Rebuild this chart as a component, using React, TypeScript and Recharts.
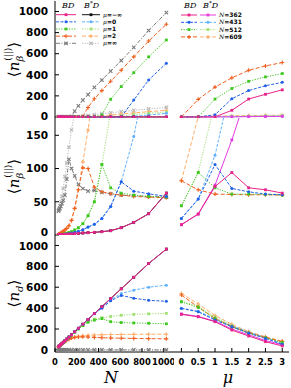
import React from 'react';
import { LineChart, Line, XAxis, YAxis, Legend } from 'recharts';

// ---------- x values / ticks ----------
const N_VALUES = [32, 38, 45, 54, 64, 76, 91, 108, 128, 152, 181, 215, 256, 304, 362, 431, 512, 609, 724, 861, 1024];
const MU_VALUES = [0, 0.5, 1, 1.5, 2, 2.5, 3];
const N_TICKS = [0, 200, 400, 600, 800, 1000];
const MU_TICKS = [0, 0.5, 1, 1.5, 2, 2.5, 3];
const BIG_Y_TICKS = [0, 200, 400, 600, 800, 1000];
const MID_Y_TICKS = [0, 50, 100, 150];
const MU_LEGEND = ['−∞', '0', '1', '2', '∞'];
const N_LEGEND = ['362', '431', '512', '609'];

// ---------- top-left: <n_beta par> vs N ----------
const PAR_BD_MNEG = [0,0,0,0,0,0,0,0,0,0,0,0,0,0,0,0,0,0,0,0,0];
const PAR_BSD_MNEG = [0,0,0,0,0,0,0,0,0,0,0,0,0,0,0,0,0,0,0,0,0];
const PAR_BD_M0 = [0,0,0,0,0,0,0,0,0,0,0,0,0,0,0,0,0,0,160,350,510];
const PAR_BSD_M0 = [0,0,0,0,0,0,0,0,0,0,0,0,0,0,0,0,0,0,6,18,34];
const PAR_BD_M1 = [0,0,0,0,0,0,0,0,0,0,0,0,0,0,0,20,168,288,420,570,730];
const PAR_BSD_M1 = [0,0,0,0,0,0,0,0,0,0,0,0,0,0,0,0,4,12,22,34,47];
const PAR_BD_M2 = [0,0,0,0,0,0,0,0,0,0,0,0,5,90,172,250,338,444,570,720,880];
const PAR_BSD_M2 = [0,0,0,0,0,0,0,0,0,0,0,0,0,0,3,10,18,28,38,50,63];
const PAR_BD_MINF = [0,0,0,0,0,0,0,0,0,5,55,105,160,212,280,350,435,535,660,820,990];
const PAR_BSD_MINF = [0,0,0,0,0,0,0,0,0,0,0,3,8,14,22,31,40,50,62,76,90];

// ---------- middle-left: <n_beta anti> vs N ----------
const ANTI_BD_MNEG = [0.5,0.5,0.6,0.7,0.8,0.9,1,1.1,1.3,1.5,2,2.5,3,3.5,4,5,6.5,11,19,32,63];
const ANTI_BSD_MNEG = [0.5,0.5,0.6,0.7,0.8,0.9,1,1.1,1.3,1.5,2,2.5,3,3.5,4,5,6.5,11,19,32,63];
const ANTI_BD_M0 = [0.2,0.3,0.4,0.5,0.7,0.9,1.2,1.6,2.2,3,4,5.5,8,12,16,25,43,80,66,62,58];
const ANTI_BSD_M0 = [0.2,0.3,0.4,0.5,0.7,0.9,1.2,1.6,2.2,3,4,5.5,8,12,16,25,43,80,148,260,400];
const ANTI_BD_M1 = [0.3,0.4,0.5,0.7,1,1.3,1.8,2.6,3.6,5,7.5,11,17,29,50,106,71,63,60,58,57];
const ANTI_BSD_M1 = [0.3,0.4,0.5,0.7,1,1.3,1.8,2.6,3.6,5,7.5,11,17,29,50,106,185,290,400,520,650];
const ANTI_BD_M2 = [1,1.5,2,3,4,5.5,7.5,10,14,22,40,68,101,100,72,65,62,60,58,57,56];
const ANTI_BSD_M2 = [1,1.5,2,3,4,5.5,7.5,10,14,22,40,68,110,158,230,320,420,530,650,780,900];
const ANTI_BD_MINF = [36,38,40,43,47,52,60,84,114,100,89,76,70,66,67,64,62,60,59,58,57];
const ANTI_BSD_MINF = [37,40,44,50,58,70,88,108,132,158,185,220,270,330,400,480,560,650,750,860,980];

// ---------- bottom-left: <n_d> vs N ----------
const ND_BD_MNEG = [31,37,43,52,62,73,87,104,123,146,174,207,246,292,348,414,492,585,695,827,965];
const ND_BSD_MNEG = [31,37,43,52,62,73,87,104,123,146,174,207,246,292,348,414,492,585,695,827,965];
const ND_BD_M0 = [31,37,43,52,62,73,87,104,123,146,174,207,246,292,346,400,470,522,495,475,465];
const ND_BSD_M0 = [31,37,43,52,62,73,87,104,123,146,174,207,246,292,348,408,482,540,572,600,620];
const ND_BD_M1 = [31,37,43,52,61,72,86,102,121,143,170,200,232,265,285,300,270,262,258,255,250];
const ND_BSD_M1 = [31,37,43,52,61,72,86,102,121,143,170,202,236,272,295,308,320,332,340,345,350];
const ND_BD_M2 = [30,36,42,50,58,68,80,92,103,113,120,124,125,124,120,117,114,112,110,108,106];
const ND_BSD_M2 = [30,36,42,50,58,68,80,92,104,115,124,130,135,140,143,145,147,148,149,150,150];
const ND_BD_MINF = [0,0,0,0,0,0,0,0,0,0,0,0,0,0,0,0,0,0,0,0,0];
const ND_BSD_MINF = [0,0,0,0,0,0,0,0,0,0,0,0,0,0,0,0,0,0,0,0,0];

// ---------- right column: vs mu ----------
const R_PAR_362_BD = [0,0,0,63,170,215,257];
const R_PAR_362_BSD = [0,0,0,1,3,4,5];
const R_PAR_431_BD = [0,0,21,173,250,296,328];
const R_PAR_431_BSD = [0,0,1,3,5,7,8];
const R_PAR_512_BD = [0,0,170,270,338,380,412];
const R_PAR_512_BSD = [0,1,4,7,9,11,12];
const R_PAR_609_BD = [0,167,283,371,442,484,516];
const R_PAR_609_BSD = [0,3,7,10,13,15,17];

const R_ANTI_362_BD = [15.5,31.5,73,94,71,68,63];
const R_ANTI_362_BSD = [15.5,31.5,75,143,220,300,380];
const R_ANTI_431_BD = [25,54,106,70,65,61.5,60.5];
const R_ANTI_431_BSD = [25,54,120,230,330,420,500];
const R_ANTI_512_BD = [44,94,71,61.5,61.5,61,60];
const R_ANTI_512_BSD = [44,94,200,320,420,500,560];
const R_ANTI_609_BD = [81.5,68,61.5,61,60.5,60.5,60];
const R_ANTI_609_BSD = [81.5,178,300,420,520,600,680];

const R_ND_362_BD = [340,317,270,190,133,79,38];
const R_ND_362_BSD = [345,320,275,200,145,90,50];
const R_ND_431_BD = [397,365,286,222,160,110,54];
const R_ND_431_BSD = [400,370,295,230,170,120,60];
const R_ND_512_BD = [460,407,300,220,160,115,70];
const R_ND_512_BSD = [465,420,315,235,170,120,75];
const R_ND_609_BD = [525,410,300,225,165,120,80];
const R_ND_609_BSD = [540,440,330,245,175,125,85];

// ---------- styles ----------
const SANS = "'DejaVu Sans', 'Liberation Sans', sans-serif";
const SERIF = "'DejaVu Serif', 'Liberation Serif', serif";
const PINK = '#e8228a', MAGENTA = '#e23ce2', BLACK = '#111111';
const BLUE = '#2060e8', LBLUE = '#62b2ff';
const GREEN = '#3cc81e', LGREEN = '#a0e070';
const ORANGE = '#f0601e', LORANGE = '#ffae6a';
const GRAY = '#7c7c7c', LGRAY = '#b8b8b8';

type Sty = { color: string; dash?: string; marker: string };
const S: Record<string, Sty> = {
  mnegBD: { color: PINK, marker: 'sq' },
  mnegBSD: { color: BLACK, marker: 'sq' },
  m0BD: { color: BLUE, dash: '3 1.5', marker: 'circ' },
  m0BSD: { color: LBLUE, dash: '3 1.5', marker: 'circ' },
  m1BD: { color: GREEN, dash: '1.2 1.4', marker: 'sq' },
  m1BSD: { color: LGREEN, dash: '1.2 1.4', marker: 'sq' },
  m2BD: { color: ORANGE, dash: '4 2', marker: 'plus' },
  m2BSD: { color: LORANGE, dash: '4 2', marker: 'plus' },
  minfBD: { color: GRAY, dash: '4 1.5 1 1.5', marker: 'x' },
  minfBSD: { color: LGRAY, dash: '1.2 1.4', marker: 'x' },
  n362BD: { color: PINK, marker: 'sq' },
  n362BSD: { color: MAGENTA, marker: 'sq' },
};
const LEFT_ROWS = [
  [S.mnegBD, S.mnegBSD], [S.m0BD, S.m0BSD], [S.m1BD, S.m1BSD], [S.m2BD, S.m2BSD], [S.minfBD, S.minfBSD],
];
const RIGHT_ROWS = [
  [S.n362BD, S.n362BSD], [S.m0BD, S.m0BSD], [S.m1BD, S.m1BSD], [S.m2BD, S.m2BSD],
];

function markerShape(marker: string, color: string, cx: number, cy: number, key?: any) {
  const s = 1.4;
  if (marker === 'sq') return <rect key={key} x={cx - s} y={cy - s} width={2 * s} height={2 * s} fill={color} />;
  if (marker === 'circ') return <circle key={key} cx={cx} cy={cy} r={1.5} fill={color} />;
  if (marker === 'plus') return <path key={key} d={`M${cx - 2},${cy}H${cx + 2}M${cx},${cy - 2}V${cy + 2}`} stroke={color} strokeWidth={1.1} fill="none" />;
  return <path key={key} d={`M${cx - 1.7},${cy - 1.7}L${cx + 1.7},${cy + 1.7}M${cx - 1.7},${cy + 1.7}L${cx + 1.7},${cy - 1.7}`} stroke={color} strokeWidth={1.1} fill="none" />;
}
function makeDot(st: Sty) {
  return (p: any) => {
    const { cx, cy, index } = p;
    if (cx == null || cy == null || isNaN(cx) || isNaN(cy)) return <g key={index} />;
    return markerShape(st.marker, st.color, cx, cy, index);
  };
}

type Ser = { key: string; values: number[]; st: Sty };
const AX = { stroke: '#000', strokeWidth: 1 };

function makeYTick(nudge: Record<string, number>) {
  return (p: any) => (
    <text x={p.x} y={p.y + (nudge[String(p.payload.value)] || 0)} dy="0.36em" textAnchor="end" fontFamily={SANS}
      fontWeight="bold" fontSize={10.5} fill="#000">
      {p.payload.value}
    </text>
  );
}
const XTick = (p: any) => (
  <text x={p.x} y={p.y} dy="0.71em" textAnchor="middle" fontFamily={SANS} fontWeight="bold" fontSize={8.4} fill="#000">
    {p.payload.value}
  </text>
);

function betaTitle(sup: string) {
  return (lp: any) => {
    const vb = lp.viewBox || { x: 0, y: 0, width: 0, height: 0 };
    const cx = vb.x + 19;
    const cy = vb.y + vb.height / 2;
    return (
      <text transform={`rotate(-90 ${cx} ${cy})`} x={cx} y={cy} textAnchor="middle" fontFamily={SERIF} fontSize={15} fill="#000">
        ⟨<tspan fontStyle="italic">n</tspan>
        <tspan fontStyle="italic" fontSize={10} dy={4}>β</tspan>
        <tspan fontSize={9} dx={-5} dy={-12}>{sup}</tspan>
        <tspan dy={8}>⟩</tspan>
      </text>
    );
  };
}
function ndTitle(lp: any) {
  const vb = lp.viewBox || { x: 0, y: 0, width: 0, height: 0 };
  const cx = vb.x + 19;
  const cy = vb.y + vb.height / 2;
  return (
    <text transform={`rotate(-90 ${cx} ${cy})`} x={cx} y={cy} textAnchor="middle" fontFamily={SERIF} fontSize={15} fill="#000">
      ⟨<tspan fontStyle="italic">n</tspan>
      <tspan fontStyle="italic" fontSize={10} dy={4}>d</tspan>
      <tspan dy={-4}>⟩</tspan>
    </text>
  );
}
function xTitle(txt: string) {
  return (lp: any) => {
    const vb = lp.viewBox || { x: 0, y: 0, width: 0, height: 0 };
    return (
      <text x={vb.x + vb.width / 2 - 3} y={vb.y + 31} textAnchor="middle" fontFamily={SERIF} fontStyle="italic" fontSize={16} fill="#000">
        {txt}
      </text>
    );
  };
}

const LEG_FS = 6;

function LeftLegend() {
  return (
    <svg width={130} height={50} style={{ display: 'block', overflow: 'visible' }}>
      <text x={12} y={7.5} fontFamily={SERIF} fontStyle="italic" fontSize={8}>BD</text>
      <text x={34} y={7.5} fontFamily={SERIF} fontStyle="italic" fontSize={8}>B<tspan fontSize={5.5} dy={-3}>*</tspan><tspan dy={3}>D</tspan></text>
      {LEFT_ROWS.map((r, i) => {
        const y = 14.7 + i * 7.15;
        return (
          <g key={i}>
            <line x1={6} x2={26} y1={y} y2={y} stroke={r[0].color} strokeDasharray={r[0].dash} strokeWidth={1} />
            {markerShape(r[0].marker, r[0].color, 16, y)}
            <line x1={32} x2={50} y1={y} y2={y} stroke={r[1].color} strokeDasharray={r[1].dash} strokeWidth={1} />
            {markerShape(r[1].marker, r[1].color, 41, y)}
            <text x={53} y={y} dy="0.36em" fontFamily={SANS} fontWeight="bold" fontSize={LEG_FS}>
              <tspan fontFamily={SERIF} fontStyle="italic" fontWeight="normal">μ</tspan>={MU_LEGEND[i]}
            </text>
          </g>
        );
      })}
    </svg>
  );
}
function RightLegend() {
  return (
    <svg width={90} height={45} style={{ display: 'block', overflow: 'visible' }}>
      <text x={6} y={7.5} fontFamily={SERIF} fontStyle="italic" fontSize={8}>BD</text>
      <text x={25} y={7.5} fontFamily={SERIF} fontStyle="italic" fontSize={8}>B<tspan fontSize={5.5} dy={-3}>*</tspan><tspan dy={3}>D</tspan></text>
      {RIGHT_ROWS.map((r, i) => {
        const y = 15 + i * 7.3;
        return (
          <g key={i}>
            <line x1={3} x2={19} y1={y} y2={y} stroke={r[0].color} strokeDasharray={r[0].dash} strokeWidth={1} />
            {markerShape(r[0].marker, r[0].color, 11, y)}
            <line x1={22} x2={38} y1={y} y2={y} stroke={r[1].color} strokeDasharray={r[1].dash} strokeWidth={1} />
            {markerShape(r[1].marker, r[1].color, 30, y)}
            <text x={41} y={y} dy="0.36em" fontFamily={SANS} fontWeight="bold" fontSize={LEG_FS}>
              <tspan fontFamily={SERIF} fontStyle="italic" fontWeight="normal">N</tspan>={N_LEGEND[i]}
            </text>
          </g>
        );
      })}
    </svg>
  );
}

type PanelProps = {
  left: number; top: number; width: number; height: number; margin: any;
  xs: number[]; series: Ser[]; xDomain: [number, number]; xTicks: number[];
  yDomain: [number, number]; yTicks: number[]; yLabels: boolean; xLabels: boolean;
  yNudge?: Record<string, number>;
  yTitle?: any; xTitleText?: string; legend?: any; legendPos?: { left: number; top: number };
};

function Panel(p: PanelProps) {
  const data = p.xs.map((xv, i) => {
    const row: any = { x: xv };
    p.series.forEach((s) => { row[s.key] = s.values[i]; });
    return row;
  });
  const yTick = makeYTick(p.yNudge || {});
  return (
    <div style={{ position: 'absolute', left: p.left, top: p.top }}>
      <LineChart width={p.width} height={p.height} data={data} margin={p.margin}>
        <XAxis xAxisId="b" dataKey="x" type="number" domain={p.xDomain} ticks={p.xTicks} interval={0} allowDataOverflow
          height={p.xLabels ? 36 : 0} tick={p.xLabels ? XTick : false} tickSize={-4} tickMargin={11}
          axisLine={AX} tickLine={AX} label={p.xTitleText ? xTitle(p.xTitleText) : undefined} />
        <XAxis xAxisId="t" orientation="top" dataKey="x" type="number" domain={p.xDomain} ticks={p.xTicks} interval={0} allowDataOverflow
          height={0} tick={false} tickSize={-4} axisLine={AX} tickLine={AX} />
        <YAxis yAxisId="l" type="number" domain={p.yDomain} ticks={p.yTicks} interval={0} allowDataOverflow
          width={p.yLabels ? 55 : 0} tick={p.yLabels ? yTick : false} tickSize={-4} tickMargin={11}
          axisLine={AX} tickLine={AX} label={p.yTitle} />
        <YAxis yAxisId="r" orientation="right" type="number" domain={p.yDomain} ticks={p.yTicks} interval={0} allowDataOverflow
          width={0} tick={false} tickSize={-4} axisLine={AX} tickLine={AX} />
        {p.series.map((s) => (
          <Line key={s.key} xAxisId="b" yAxisId="l" type="linear" dataKey={s.key} stroke={s.st.color}
            strokeWidth={1} strokeDasharray={s.st.dash} dot={makeDot(s.st)} activeDot={false}
            isAnimationActive={false} />
        ))}
        {p.legend ? (
          <Legend layout="vertical" align="center" verticalAlign="middle" content={p.legend}
            wrapperStyle={{ left: p.legendPos!.left, top: p.legendPos!.top, width: 130, height: 50 }} />
        ) : null}
      </LineChart>
    </div>
  );
}

function leftSeries(a: number[][]): Ser[] {
  return [
    { key: 'minfBSD', values: a[9], st: S.minfBSD },
    { key: 'm2BSD', values: a[7], st: S.m2BSD },
    { key: 'm1BSD', values: a[5], st: S.m1BSD },
    { key: 'm0BSD', values: a[3], st: S.m0BSD },
    { key: 'mnegBSD', values: a[1], st: S.mnegBSD },
    { key: 'minfBD', values: a[8], st: S.minfBD },
    { key: 'm2BD', values: a[6], st: S.m2BD },
    { key: 'm1BD', values: a[4], st: S.m1BD },
    { key: 'm0BD', values: a[2], st: S.m0BD },
    { key: 'mnegBD', values: a[0], st: S.mnegBD },
  ];
}
function rightSeries(a: number[][]): Ser[] {
  return [
    { key: 'n609BSD', values: a[7], st: S.m2BSD },
    { key: 'n512BSD', values: a[5], st: S.m1BSD },
    { key: 'n431BSD', values: a[3], st: S.m0BSD },
    { key: 'n362BSD', values: a[1], st: S.n362BSD },
    { key: 'n609BD', values: a[6], st: S.m2BD },
    { key: 'n512BD', values: a[4], st: S.m1BD },
    { key: 'n431BD', values: a[2], st: S.m0BD },
    { key: 'n362BD', values: a[0], st: S.n362BD },
  ];
}

export default function App() {
  const LX: [number, number] = [0, 1085];
  const RX: [number, number] = [-0.25, 3.2];
  const TOPY: [number, number] = [-10, 1100];
  const MIDY: [number, number] = [0, 176];
  const BOTY: [number, number] = [-20, 1100];
  return (
    <div style={{ position: 'absolute', left: 0, top: 0, width: 291, height: 388, background: '#fff', overflow: 'hidden' }}>
      <Panel left={0} top={0} width={174} height={128} margin={{ top: 1, right: 1, bottom: 10, left: 0 }}
        xs={N_VALUES} xDomain={LX} xTicks={N_TICKS} yDomain={TOPY} yTicks={BIG_Y_TICKS} yLabels xLabels={false}
        yNudge={{ '0': -1 }}
        yTitle={betaTitle('(||)')} legend={LeftLegend} legendPos={{ left: 50, top: 0 }}
        series={leftSeries([PAR_BD_MNEG, PAR_BSD_MNEG, PAR_BD_M0, PAR_BSD_M0, PAR_BD_M1, PAR_BSD_M1, PAR_BD_M2, PAR_BSD_M2, PAR_BD_MINF, PAR_BSD_MINF])} />
      <Panel left={172} top={0} width={119} height={128} margin={{ top: 1, right: 2, bottom: 10, left: 1 }}
        xs={MU_VALUES} xDomain={RX} xTicks={MU_TICKS} yDomain={TOPY} yTicks={BIG_Y_TICKS} yLabels={false} xLabels={false}
        legend={RightLegend} legendPos={{ left: 6, top: 0 }}
        series={rightSeries([R_PAR_362_BD, R_PAR_362_BSD, R_PAR_431_BD, R_PAR_431_BSD, R_PAR_512_BD, R_PAR_512_BSD, R_PAR_609_BD, R_PAR_609_BSD])} />

      <Panel left={0} top={108} width={174} height={137} margin={{ top: 10, right: 1, bottom: 10, left: 0 }}
        xs={N_VALUES} xDomain={LX} xTicks={N_TICKS} yDomain={MIDY} yTicks={MID_Y_TICKS} yLabels xLabels={false}
        yNudge={{ '0': -2.5 }}
        yTitle={betaTitle('(||)')}
        series={leftSeries([ANTI_BD_MNEG, ANTI_BSD_MNEG, ANTI_BD_M0, ANTI_BSD_M0, ANTI_BD_M1, ANTI_BSD_M1, ANTI_BD_M2, ANTI_BSD_M2, ANTI_BD_MINF, ANTI_BSD_MINF])} />
      <Panel left={172} top={108} width={119} height={137} margin={{ top: 10, right: 2, bottom: 10, left: 1 }}
        xs={MU_VALUES} xDomain={RX} xTicks={MU_TICKS} yDomain={MIDY} yTicks={MID_Y_TICKS} yLabels={false} xLabels={false}
        series={rightSeries([R_ANTI_362_BD, R_ANTI_362_BSD, R_ANTI_431_BD, R_ANTI_431_BSD, R_ANTI_512_BD, R_ANTI_512_BSD, R_ANTI_609_BD, R_ANTI_609_BSD])} />

      <Panel left={0} top={225} width={174} height={163} margin={{ top: 10, right: 1, bottom: 0, left: 0 }}
        xs={N_VALUES} xDomain={LX} xTicks={N_TICKS} yDomain={BOTY} yTicks={BIG_Y_TICKS} yLabels xLabels
        yNudge={{ '1000': 1 }}
        yTitle={ndTitle} xTitleText="N"
        series={leftSeries([ND_BD_MNEG, ND_BSD_MNEG, ND_BD_M0, ND_BSD_M0, ND_BD_M1, ND_BSD_M1, ND_BD_M2, ND_BSD_M2, ND_BD_MINF, ND_BSD_MINF])} />
      <Panel left={172} top={225} width={119} height={163} margin={{ top: 10, right: 2, bottom: 0, left: 1 }}
        xs={MU_VALUES} xDomain={RX} xTicks={MU_TICKS} yDomain={BOTY} yTicks={BIG_Y_TICKS} yLabels={false} xLabels
        xTitleText="μ"
        series={rightSeries([R_ND_362_BD, R_ND_362_BSD, R_ND_431_BD, R_ND_431_BSD, R_ND_512_BD, R_ND_512_BSD, R_ND_609_BD, R_ND_609_BSD])} />
    </div>
  );
}
